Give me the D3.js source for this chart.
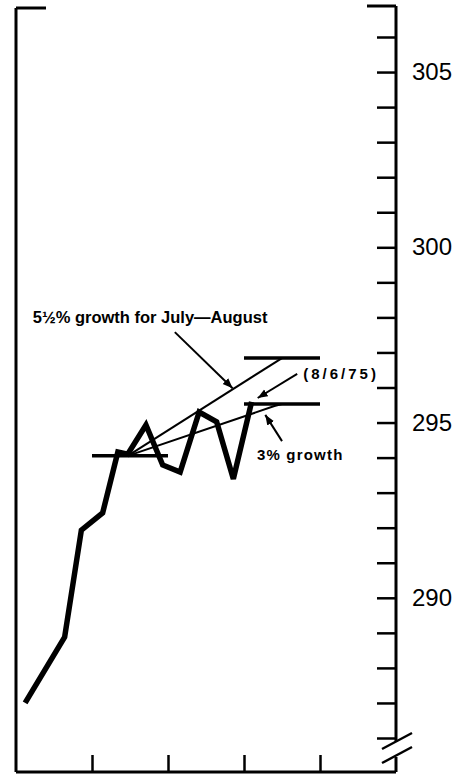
<!DOCTYPE html>
<html>
<head>
<meta charset="utf-8">
<script src="https://cdn.jsdelivr.net/npm/d3@7"></script>
<style>
  html, body { margin: 0; padding: 0; background: #fff; }
  svg { display: block; }
  text { font-family: "Liberation Sans", Arial, Helvetica, sans-serif; fill: #000; }
</style>
</head>
<body>
<div id="chart"></div>
<script>
'use strict';

// weekly series, x in months from the left edge, value on right scale
var months = [0.12, 0.64, 0.86, 1.14, 1.34, 1.47, 1.71, 1.93, 2.16, 2.41, 2.64, 2.86, 3.10];
var values = [287.0, 288.88, 291.93, 292.42, 294.16, 294.1, 294.93, 293.79, 293.59, 295.30, 295.02, 293.39, 295.59];

// right axis
var yTicks = d3.range(286, 307);
var yLabels = [290, 295, 300, 305];
var xTicks = [1, 2, 3, 4];

// base level and growth targets
var baseLevel = 294.05;
var baseStart = 1, baseEnd = 2;
var trendStart = 1.47;
var trendEnd = 3.5;
var targetStart = 3, targetEnd = 4;
var target55 = 296.84;
var target3 = 295.53;

// annotation labels
var labelText = ["5½% growth for July—August", "(8/6/75)", "3% growth"];
var labelMonth = [0.22, 3.78, 3.17];
var labelValue = [297.84, 296.24, 293.93];

// leader arrows: [from month, from value, to month, to value]
var leaders = [
    [2.09, 297.58, 2.85, 295.98],
    [3.70, 296.39, 3.18, 295.70],
    [3.50, 294.47, 3.28, 295.22]
];

var width = 472, height = 775;

var svg = d3.select("#chart").append("svg")
    .attr("width", width)
    .attr("height", height);

var x = d3.scaleLinear().domain([0, 5]).range([16, 396]);
var y = d3.scaleLinear().domain([286, 306]).range([738, 37]);

var bottom = 772;
var right = x(5);

// arrow head
svg.append("defs").append("marker")
    .attr("id", "arrow")
    .attr("viewBox", "0 0 10 10")
    .attr("refX", 10)
    .attr("refY", 5)
    .attr("markerWidth", 5)
    .attr("markerHeight", 5)
    .attr("markerUnits", "strokeWidth")
    .attr("orient", "auto")
  .append("path")
    .attr("d", "M0,1 L10,5 L0,9 Z")
    .attr("fill", "#000");

// frame: left axis with top cap
svg.append("line")
    .attr("x1", x(0)).attr("x2", x(0))
    .attr("y1", 8).attr("y2", bottom)
    .attr("stroke", "#000").attr("stroke-width", 3);
svg.append("line")
    .attr("x1", x(0)).attr("x2", x(0) + 30)
    .attr("y1", 8).attr("y2", 8)
    .attr("stroke", "#000").attr("stroke-width", 3);

// bottom axis
svg.append("line")
    .attr("x1", x(0)).attr("x2", right)
    .attr("y1", bottom).attr("y2", bottom)
    .attr("stroke", "#000").attr("stroke-width", 3);

var gx = svg.append("g")
    .attr("transform", "translate(0," + bottom + ")")
    .call(d3.axisBottom(x).tickValues(xTicks).tickSize(-17).tickFormat(""));
gx.select(".domain").remove();
gx.selectAll(".tick line").attr("stroke", "#000").attr("stroke-width", 2.5);

// right axis with break
svg.append("line")
    .attr("x1", right).attr("x2", right)
    .attr("y1", 6).attr("y2", 742)
    .attr("stroke", "#000").attr("stroke-width", 3);
svg.append("line")
    .attr("x1", right).attr("x2", right)
    .attr("y1", 757).attr("y2", bottom)
    .attr("stroke", "#000").attr("stroke-width", 3);
svg.append("line")
    .attr("x1", right - 29).attr("x2", right)
    .attr("y1", 6).attr("y2", 6)
    .attr("stroke", "#000").attr("stroke-width", 3);
[0, 14].forEach(function(dy) {
    svg.append("line")
        .attr("x1", right - 14).attr("y1", 749 + dy)
        .attr("x2", right + 16).attr("y2", 733 + dy)
        .attr("stroke", "#000").attr("stroke-width", 2.5);
});

var gy = svg.append("g")
    .attr("transform", "translate(" + right + ",0)")
    .call(d3.axisLeft(y).tickValues(yTicks).tickSize(19).tickFormat(""));
gy.select(".domain").remove();
gy.selectAll(".tick line").attr("stroke", "#000").attr("stroke-width", 2.5);

var gl = svg.append("g")
    .attr("transform", "translate(" + right + ",0)")
    .call(d3.axisRight(y).tickValues(yLabels).tickSize(0).tickPadding(16));
gl.select(".domain").remove();
gl.selectAll("text")
    .style("font-family", "'Liberation Sans', Arial, sans-serif")
    .style("font-size", "24px")
    .attr("fill", "#000");

// base level and target levels
var levels = [
    [baseStart, baseEnd, baseLevel],
    [targetStart, targetEnd, target55],
    [targetStart, targetEnd, target3]
];
svg.selectAll(".level")
    .data(levels)
    .enter().append("line")
    .attr("class", "level")
    .attr("x1", function(d) { return x(d[0]); })
    .attr("x2", function(d) { return x(d[1]); })
    .attr("y1", function(d) { return y(d[2]); })
    .attr("y2", function(d) { return y(d[2]); })
    .attr("stroke", "#000")
    .attr("stroke-width", 3.5);

// growth paths from base to targets
var trends = [
    [[trendStart, baseLevel], [trendEnd, target55]],
    [[trendStart, baseLevel], [trendEnd - 0.1, target3 - 0.06], [trendEnd, target3]]
];
var trendLine = d3.line()
    .x(function(d) { return x(d[0]); })
    .y(function(d) { return y(d[1]); });
svg.selectAll(".trend")
    .data(trends)
    .enter().append("path")
    .attr("class", "trend")
    .attr("d", trendLine)
    .attr("fill", "none")
    .attr("stroke", "#000")
    .attr("stroke-width", 2);

// actual series
var series = months.map(function(m, i) { return [m, values[i]]; });
svg.append("path")
    .datum(series)
    .attr("d", trendLine)
    .attr("fill", "none")
    .attr("stroke", "#000")
    .attr("stroke-width", 5.5)
    .attr("stroke-linejoin", "miter")
    .attr("stroke-miterlimit", 3);

// leaders
svg.selectAll(".leader")
    .data(leaders)
    .enter().append("line")
    .attr("class", "leader")
    .attr("x1", function(d) { return x(d[0]); })
    .attr("y1", function(d) { return y(d[1]); })
    .attr("x2", function(d) { return x(d[2]); })
    .attr("y2", function(d) { return y(d[3]); })
    .attr("stroke", "#000")
    .attr("stroke-width", 2)
    .attr("marker-end", "url(#arrow)");

// labels
svg.append("text")
    .attr("x", x(labelMonth[0]))
    .attr("y", y(labelValue[0]))
    .style("font-size", "16.5px")
    .style("font-weight", "bold")
    .text(labelText[0]);

svg.append("text")
    .attr("x", x(labelMonth[1]))
    .attr("y", y(labelValue[1]))
    .style("font-size", "15px")
    .style("letter-spacing", "3px")
    .style("font-weight", "bold")
    .text(labelText[1]);

svg.append("text")
    .attr("x", x(labelMonth[2]))
    .attr("y", y(labelValue[2]))
    .style("font-size", "15px")
    .style("letter-spacing", "1.2px")
    .style("font-weight", "bold")
    .text(labelText[2]);
</script>
</body>
</html>
